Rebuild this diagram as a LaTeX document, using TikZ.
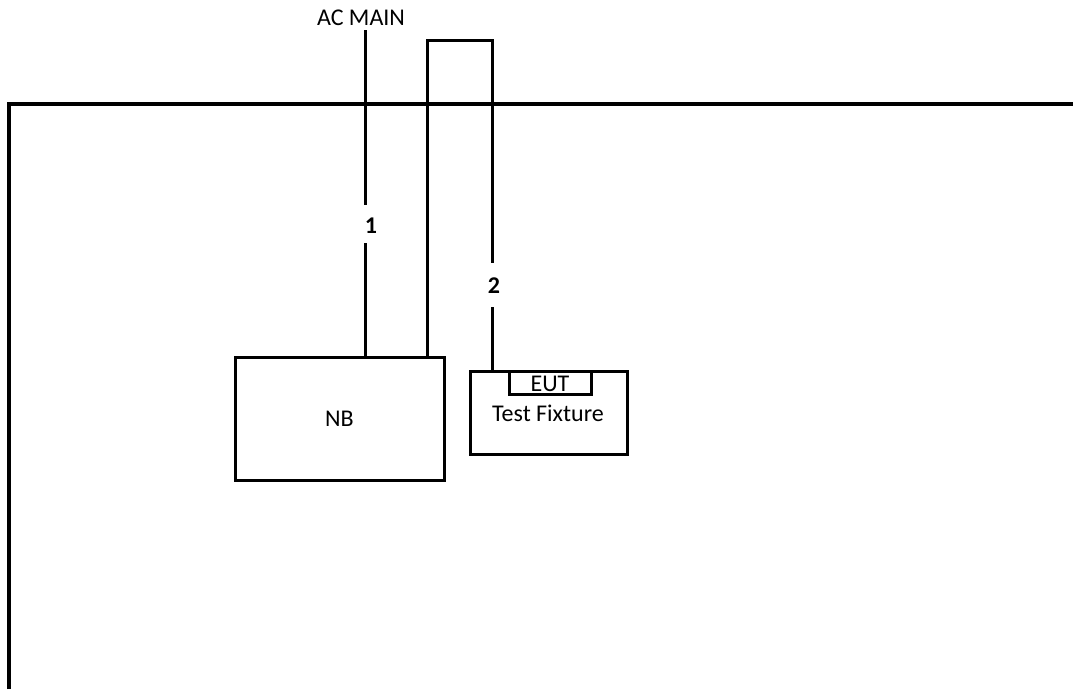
\documentclass[tikz,border=0pt]{standalone}
\usepackage{fontspec}
\setmainfont{Carlito}
\begin{document}
\begin{tikzpicture}[x=0.75pt,y=-0.75pt,
  wire/.style={line width=2.25pt},
  frame/.style={line width=3pt},
  box/.style={draw,line width=2.25pt,inner sep=0pt},
  lbl/.style={font=\fontsize{18}{21}\selectfont,inner sep=0pt},
  num/.style={font=\fontsize{18}{21}\selectfont\bfseries,inner sep=0pt}]
\useasboundingbox (0,0) rectangle (1073,689);
% frame
\coordinate (fl) at (9,689);
\coordinate (fc) at (9,104);
\coordinate (fr) at (1075,104);
\draw[frame] (fl) -- (fc) -- (fr);
% boxes
\node[box,minimum width=209*0.75pt,minimum height=123*0.75pt] (nb) at (339.5,418.5) {};
\node[lbl] (nbt) at (nb.center) {NB};
\node[box,minimum width=157*0.75pt,minimum height=83*0.75pt] (tf) at (548.5,412.5) {};
\node[box,minimum width=82*0.75pt,minimum height=23*0.75pt] (eut) at (550,382.5) {};
\node[lbl] (eutt) at (550,384) {EUT};
\node[lbl] (tft) at (548,413) {Test Fixture};
% AC main
\node[lbl] (ac) at (361,18) {AC MAIN};
\node[num] (n1) at (371,226) {1};
\node[num] (n2) at (494,286) {2};
\coordinate (a1) at (365.5,30);
\coordinate (a2) at (365.5,205);
\coordinate (a3) at (365.5,243);
\draw[wire] (a1) -- (a2);
\draw[wire] (a3) -- (a3 |- nb.north);
% loop
\coordinate (l2) at (427,40);
\coordinate (l3) at (492.5,40);
\coordinate (l4) at (492.5,263);
\coordinate (l5) at (492.5,307);
\draw[wire] (l2 |- nb.north) -- (l2) -- (l3) -- (l4);
\draw[wire] (l5) -- (l5 |- tf.north);
\end{tikzpicture}
\end{document}
